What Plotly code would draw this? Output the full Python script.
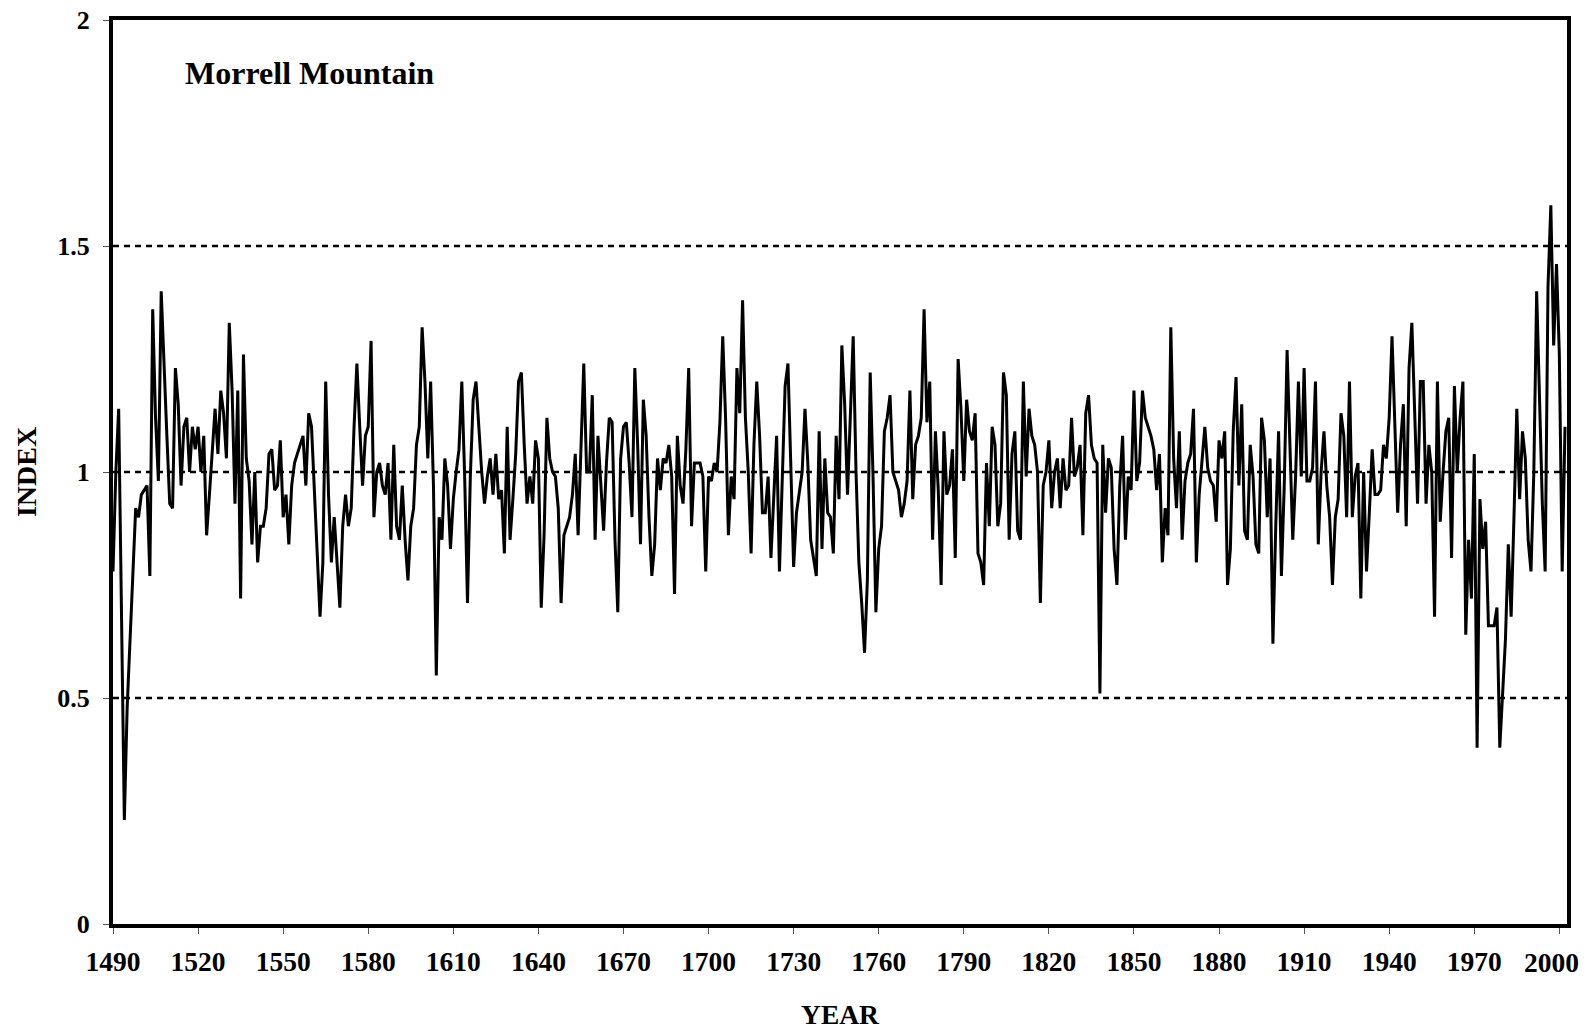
import plotly.graph_objects as go

# Ring-width index, Morrell Mountain chronology, one value per year from 1490
first_year = 1490
index_values = [
    0.78, 1.00, 1.14, 0.65, 0.23, 0.48, 0.62, 0.78, 0.92, 0.90,  # 1490s
    0.95, 0.96, 0.97, 0.77, 1.36, 1.12, 0.98, 1.40, 1.22, 1.08,  # 1500s
    0.93, 0.92, 1.23, 1.15, 0.97, 1.10, 1.12, 1.00, 1.10, 1.05,  # 1510s
    1.10, 1.00, 1.08, 0.86, 0.95, 1.05, 1.14, 1.04, 1.18, 1.13,  # 1520s
    1.03, 1.33, 1.18, 0.93, 1.18, 0.72, 1.26, 1.03, 0.98, 0.84,  # 1530s
    1.00, 0.80, 0.88, 0.88, 0.92, 1.04, 1.05, 0.96, 0.97, 1.07,  # 1540s
    0.90, 0.95, 0.84, 0.97, 1.02, 1.04, 1.06, 1.08, 0.97, 1.13,  # 1550s
    1.10, 0.95, 0.81, 0.68, 0.80, 1.20, 0.95, 0.80, 0.90, 0.80,  # 1560s
    0.70, 0.88, 0.95, 0.88, 0.92, 1.10, 1.24, 1.10, 0.97, 1.08,  # 1570s
    1.10, 1.29, 0.90, 1.00, 1.02, 0.97, 0.95, 1.02, 0.85, 1.06,  # 1580s
    0.88, 0.85, 0.97, 0.85, 0.76, 0.88, 0.92, 1.06, 1.10, 1.32,  # 1590s
    1.20, 1.03, 1.20, 0.97, 0.55, 0.90, 0.85, 1.03, 0.97, 0.83,  # 1600s
    0.94, 1.00, 1.05, 1.20, 0.99, 0.71, 0.99, 1.16, 1.20, 1.10,  # 1610s
    1.00, 0.93, 0.99, 1.03, 0.95, 1.04, 0.94, 0.96, 0.82, 1.10,  # 1620s
    0.85, 0.94, 1.04, 1.20, 1.22, 1.06, 0.93, 0.99, 0.93, 1.07,  # 1630s
    1.03, 0.70, 0.86, 1.12, 1.03, 1.00, 0.99, 0.92, 0.71, 0.86,  # 1640s
    0.88, 0.90, 0.95, 1.04, 0.86, 1.05, 1.24, 1.00, 1.00, 1.17,  # 1650s
    0.85, 1.08, 0.97, 0.87, 1.02, 1.12, 1.11, 0.85, 0.69, 1.03,  # 1660s
    1.10, 1.11, 1.02, 0.90, 1.23, 1.06, 0.84, 1.16, 1.08, 0.90,  # 1670s
    0.77, 0.84, 1.03, 0.96, 1.03, 1.02, 1.06, 0.99, 0.73, 1.08,  # 1680s
    0.97, 0.93, 1.05, 1.23, 0.88, 1.02, 1.02, 1.02, 0.99, 0.78,  # 1690s
    0.99, 0.98, 1.02, 1.00, 1.11, 1.30, 1.12, 0.86, 0.99, 0.94,  # 1700s
    1.23, 1.13, 1.38, 1.12, 1.00, 0.82, 1.06, 1.20, 1.08, 0.91,  # 1710s
    0.91, 0.99, 0.81, 0.94, 1.08, 0.78, 0.98, 1.19, 1.24, 1.02,  # 1720s
    0.79, 0.91, 0.96, 1.00, 1.14, 1.02, 0.85, 0.81, 0.77, 1.09,  # 1730s
    0.83, 1.03, 0.91, 0.90, 0.82, 1.08, 0.94, 1.28, 1.15, 0.95,  # 1740s
    1.12, 1.30, 1.00, 0.80, 0.71, 0.60, 0.76, 1.22, 0.99, 0.69,  # 1750s
    0.83, 0.88, 1.09, 1.12, 1.17, 1.00, 0.98, 0.96, 0.90, 0.93,  # 1760s
    0.98, 1.18, 0.94, 1.06, 1.08, 1.12, 1.36, 1.11, 1.20, 0.85,  # 1770s
    1.09, 0.96, 0.75, 1.09, 0.95, 0.97, 1.05, 0.81, 1.25, 1.14,  # 1780s
    0.98, 1.16, 1.09, 1.07, 1.13, 0.82, 0.80, 0.75, 1.02, 0.88,  # 1790s
    1.10, 1.06, 0.88, 0.93, 1.22, 1.17, 0.85, 1.04, 1.09, 0.87,  # 1800s
    0.85, 1.20, 0.99, 1.14, 1.08, 1.06, 1.00, 0.71, 0.97, 1.00,  # 1810s
    1.07, 0.92, 1.00, 1.03, 0.92, 1.03, 0.96, 0.97, 1.12, 0.99,  # 1820s
    1.01, 1.06, 0.86, 1.13, 1.17, 1.06, 1.03, 1.02, 0.51, 1.06,  # 1830s
    0.91, 1.03, 1.01, 0.83, 0.75, 0.97, 1.08, 0.85, 0.99, 0.96,  # 1840s
    1.18, 0.98, 1.02, 1.18, 1.12, 1.10, 1.08, 1.05, 0.96, 1.04,  # 1850s
    0.80, 0.92, 0.86, 1.32, 1.03, 0.92, 1.09, 0.85, 0.98, 1.02,  # 1860s
    1.04, 1.14, 0.80, 0.95, 1.03, 1.10, 1.01, 0.98, 0.97, 0.89,  # 1870s
    1.07, 1.03, 1.09, 0.75, 0.83, 1.09, 1.21, 0.97, 1.15, 0.87,  # 1880s
    0.85, 1.06, 0.99, 0.84, 0.82, 1.12, 1.07, 0.90, 1.03, 0.62,  # 1890s
    0.88, 1.09, 0.77, 0.97, 1.27, 1.08, 0.85, 0.99, 1.20, 0.99,  # 1900s
    1.23, 0.98, 0.98, 1.01, 1.20, 0.84, 1.00, 1.09, 0.97, 0.90,  # 1910s
    0.75, 0.90, 0.94, 1.13, 1.08, 0.90, 1.20, 0.90, 0.99, 1.02,  # 1920s
    0.72, 1.00, 0.78, 0.91, 1.05, 0.95, 0.95, 0.96, 1.06, 1.03,  # 1930s
    1.12, 1.30, 1.10, 0.91, 1.06, 1.15, 0.88, 1.23, 1.33, 1.12,  # 1940s
    0.93, 1.20, 1.20, 0.93, 1.06, 1.00, 0.68, 1.20, 0.89, 1.00,  # 1950s
    1.09, 1.12, 0.81, 1.19, 1.00, 1.12, 1.20, 0.64, 0.85, 0.72,  # 1960s
    1.04, 0.39, 0.94, 0.83, 0.89, 0.66, 0.66, 0.66, 0.70, 0.39,  # 1970s
    0.51, 0.63, 0.84, 0.68, 0.90, 1.14, 0.94, 1.09, 1.03, 0.85,  # 1980s
    0.78, 1.00, 1.40, 1.17, 0.93, 0.78, 1.41, 1.59, 1.28, 1.46,  # 1990s
    1.26, 0.78, 1.10,                                            # 2000s
]
years = list(range(first_year, first_year + len(index_values)))

x_tick_years = list(range(1490, 2001, 30))
y_tick_values = [0, 0.5, 1, 1.5, 2]
y_tick_labels = ["0", "0.5", "1", "1.5", "2"]
reference_levels = [0.5, 1.0, 1.5]

FONT = "Liberation Serif"
W, H = 1596, 1031
L, R, T, B = 113, 29, 20, 107
TICK_FONT = dict(family=FONT, size=27.5, color="black")

fig = go.Figure()

# dashed reference levels
for lvl in reference_levels:
    fig.add_shape(type="line", xref="paper", x0=0, x1=1, yref="y", y0=lvl, y1=lvl,
                  line=dict(color="black", width=2.5, dash="6px,5px"), layer="below")

fig.add_trace(go.Scatter(
    x=years, y=index_values, mode="lines",
    line=dict(color="black", width=3),
    hoverinfo="x+y", showlegend=False,
))

fig.add_annotation(
    text="<b>Morrell Mountain</b>", xref="paper", yref="paper",
    x=(183 - L) / (W - L - R), y=(H - B - 73) / (H - T - B),
    xanchor="left", yanchor="middle", showarrow=False,
    font=dict(family=FONT, size=32, color="black"),
)

# the last year label sits slightly inside the right edge of the frame
last_year = x_tick_years[-1]
fig.add_annotation(
    text=f"<b>{last_year}</b>", xref="x", yref="paper", x=last_year, y=0,
    xanchor="center", yanchor="middle", xshift=-8, yshift=-38,
    showarrow=False, font=TICK_FONT,
)

fig.update_layout(
    width=W, height=H,
    margin=dict(l=L, r=R, t=T, b=B, pad=0, autoexpand=False),
    paper_bgcolor="white", plot_bgcolor="white",
    font=dict(family=FONT, color="black"),
    xaxis=dict(
        range=[1490, 2002.7], tickmode="array", tickvals=x_tick_years,
        ticktext=[f"<b>{y}</b>" if y != last_year else "" for y in x_tick_years],
        tickfont=TICK_FONT,
        ticks="outside", ticklen=6, tickwidth=1, tickcolor="#555",
        ticklabelstandoff=4, automargin=False,
        showgrid=False, zeroline=False,
        showline=True, linecolor="black", linewidth=4, mirror=True,
        title=dict(text="<b>YEAR</b>", font=dict(family=FONT, size=27.5, color="black"), standoff=30),
    ),
    yaxis=dict(
        range=[0, 2], tickmode="array", tickvals=y_tick_values,
        ticktext=[f"<b>{t}</b>" for t in y_tick_labels],
        tickfont=dict(family=FONT, size=26, color="black"),
        ticks="outside", ticklen=6, tickwidth=1, tickcolor="#555",
        ticklabelstandoff=8, automargin=False,
        showgrid=False, zeroline=False,
        showline=True, linecolor="black", linewidth=4, mirror=True,
        title=dict(text="<b>INDEX</b>", font=dict(family=FONT, size=28, color="black"), standoff=13),
    ),
)

fig.write_html("out.html", config={"displayModeBar": False})
